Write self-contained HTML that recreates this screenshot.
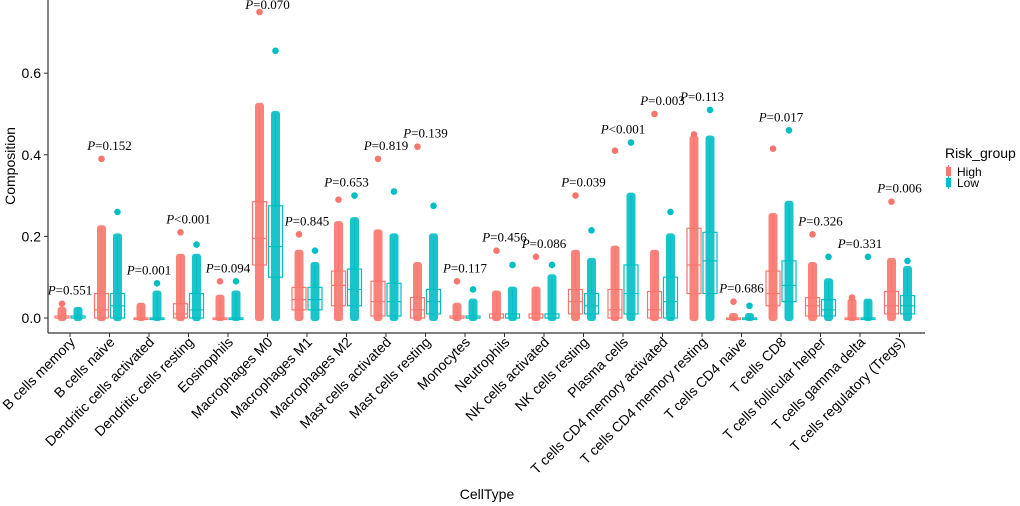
<!DOCTYPE html>
<html><head><meta charset="utf-8"><style>
html,body{margin:0;padding:0;background:#fff;}
svg{display:block;font-family:"Liberation Sans",sans-serif;}
</style></head><body>
<svg id="chart" width="1020" height="506" viewBox="0 0 1020 506" xmlns="http://www.w3.org/2000/svg">
<g id="plot"></g>
<line x1="48" y1="0" x2="48" y2="333" stroke="#333" stroke-width="1.2"/>
<line x1="48" y1="333" x2="925" y2="333" stroke="#333" stroke-width="1.2"/>
<g id="axes"></g>
<text transform="translate(15,166) rotate(-90)" text-anchor="middle" font-size="14">Composition</text>
<text x="487" y="499" text-anchor="middle" font-size="14">CellType</text>
<g>
<text x="945" y="158" font-size="14">Risk_group</text>
<g><rect x="946" y="167" width="5" height="9" fill="#F8766D"/><line x1="948.5" y1="165" x2="948.5" y2="178" stroke="#F8766D"/><text x="957" y="176" font-size="12">High</text></g>
<g><rect x="946" y="178" width="5" height="9" fill="#00BFC4"/><line x1="948.5" y1="176" x2="948.5" y2="189" stroke="#00BFC4"/><text x="957" y="187" font-size="12">Low</text></g>
</g>
</svg>
<script>
const categories=["B cells memory","B cells naive","Dendritic cells activated","Dendritic cells resting","Eosinophils","Macrophages M0","Macrophages M1","Macrophages M2","Mast cells activated","Mast cells resting","Monocytes","Neutrophils","NK cells activated","NK cells resting","Plasma cells","T cells CD4 memory activated","T cells CD4 memory resting","T cells CD4 naive","T cells CD8","T cells follicular helper","T cells gamma delta","T cells regulatory (Tregs)"];
const pLabels=["0.551","0.152","0.001","<0.001","0.094","0.070","0.845","0.653","0.819","0.139","0.117","0.456","0.086","0.039","<0.001","0.003","0.113","0.686","0.017","0.326","0.331","0.006"];
// [q1, median, q3, whiskerTop, max]
const highStats=[[0,0,0.005,0.02,0.035],[0,0.02,0.06,0.22,0.39],[0,0,0,0.03,0.03],[0,0.01,0.035,0.15,0.21],[0,0,0,0.05,0.09],[0.13,0.195,0.285,0.52,0.75],[0.02,0.045,0.075,0.16,0.205],[0.03,0.08,0.115,0.23,0.29],[0.005,0.04,0.09,0.21,0.39],[0,0.02,0.05,0.13,0.42],[0,0,0.005,0.03,0.09],[0,0,0.01,0.06,0.165],[0,0,0.01,0.07,0.15],[0.01,0.04,0.07,0.16,0.3],[0,0.02,0.07,0.17,0.41],[0,0.02,0.065,0.16,0.5],[0.06,0.13,0.22,0.44,0.45],[0,0,0,0.005,0.04],[0.03,0.06,0.115,0.25,0.415],[0.005,0.03,0.05,0.13,0.205],[0,0,0,0.04,0.05],[0.01,0.03,0.065,0.14,0.285]];
const lowStats=[[0,0,0.005,0.02,0.02],[0,0.03,0.06,0.2,0.26],[0,0,0,0.06,0.085],[0,0.02,0.06,0.15,0.18],[0,0,0,0.06,0.09],[0.1,0.175,0.275,0.5,0.655],[0.02,0.045,0.075,0.13,0.165],[0.03,0.07,0.12,0.24,0.3],[0.005,0.04,0.085,0.2,0.31],[0.01,0.04,0.07,0.2,0.275],[0,0,0.005,0.04,0.07],[0,0,0.01,0.07,0.13],[0,0,0.01,0.1,0.13],[0.01,0.03,0.06,0.14,0.215],[0.01,0.06,0.13,0.3,0.43],[0,0.04,0.1,0.2,0.26],[0.06,0.14,0.21,0.44,0.51],[0,0,0,0.005,0.03],[0.04,0.08,0.14,0.28,0.46],[0.005,0.02,0.045,0.09,0.15],[0,0,0,0.04,0.15],[0.01,0.03,0.055,0.12,0.14]];
const yTicks=[0,0.2,0.4,0.6];
const yTickLabels=["0.0","0.2","0.4","0.6"];

const NS="http://www.w3.org/2000/svg";
const plot=document.getElementById('plot'), axes=document.getElementById('axes');
const xs=i=>70+i*39.5;
const ys=v=>318-v*408;
function mk(tag,attrs,parent){const e=document.createElementNS(NS,tag);for(const k in attrs)e.setAttribute(k,attrs[k]);parent.appendChild(e);return e;}

function drawGroup(cx,s,color,name){
  const g=mk('g',{},plot);
  
  
  const top=ys(s[3]),bot=ys(0);
  mk('line',{x1:cx,x2:cx,y1:top,y2:ys(s[2]),stroke:color,'stroke-width':1},g);
  const strip=mk('rect',{x:cx-4.5,y:top-3,width:9,height:bot-top+6,rx:3,fill:color,opacity:0.9},g);
  
  
  if(s[4]>s[3]){
    const d=mk('circle',{cx:cx,cy:ys(s[4]),r:3.3,fill:color},g);
    
    
  }
  const h=Math.max(ys(s[0])-ys(s[2]),1.5);
  const box=mk('rect',{x:cx-7,y:ys(s[2]),width:14,height:h,fill:'none',stroke:color,'stroke-width':1.2},g);
  
  
  mk('line',{x1:cx-7,x2:cx+7,y1:ys(s[1]),y2:ys(s[1]),stroke:color,'stroke-width':1.2},g);
}
categories.forEach((c,i)=>{
  const cx=xs(i);
  drawGroup(cx-8,highStats[i],'#F8766D','box-high-'+i);
  drawGroup(cx+8,lowStats[i],'#00BFC4','box-low-'+i);
  const m=Math.max(highStats[i][4],lowStats[i][4]);
  const t=mk('text',{x:cx,y:Math.max(ys(m)-9,9),'text-anchor':'middle','font-size':13,'font-family':'"Liberation Serif",serif'},plot);
  
  
  const it=mk('tspan',{'font-style':'italic'},t);it.textContent='P';
  const r=mk('tspan',{},t);r.textContent=(pLabels[i][0]==='<'?'':'=')+pLabels[i];
  mk('line',{x1:cx,x2:cx,y1:333,y2:337,stroke:'#333'},axes);
  const lt=mk('text',{transform:`translate(${cx+6},${343}) rotate(-45)`,'text-anchor':'end','font-size':14},axes);
  
  
  lt.textContent=c;
});
yTicks.forEach((v,i)=>{
  mk('line',{x1:44,x2:48,y1:ys(v),y2:ys(v),stroke:'#333'},axes);
  const t=mk('text',{x:41,y:ys(v)+5,'text-anchor':'end','font-size':14},axes);
  
  
  t.textContent=yTickLabels[i];
});
</script>
</body></html>
